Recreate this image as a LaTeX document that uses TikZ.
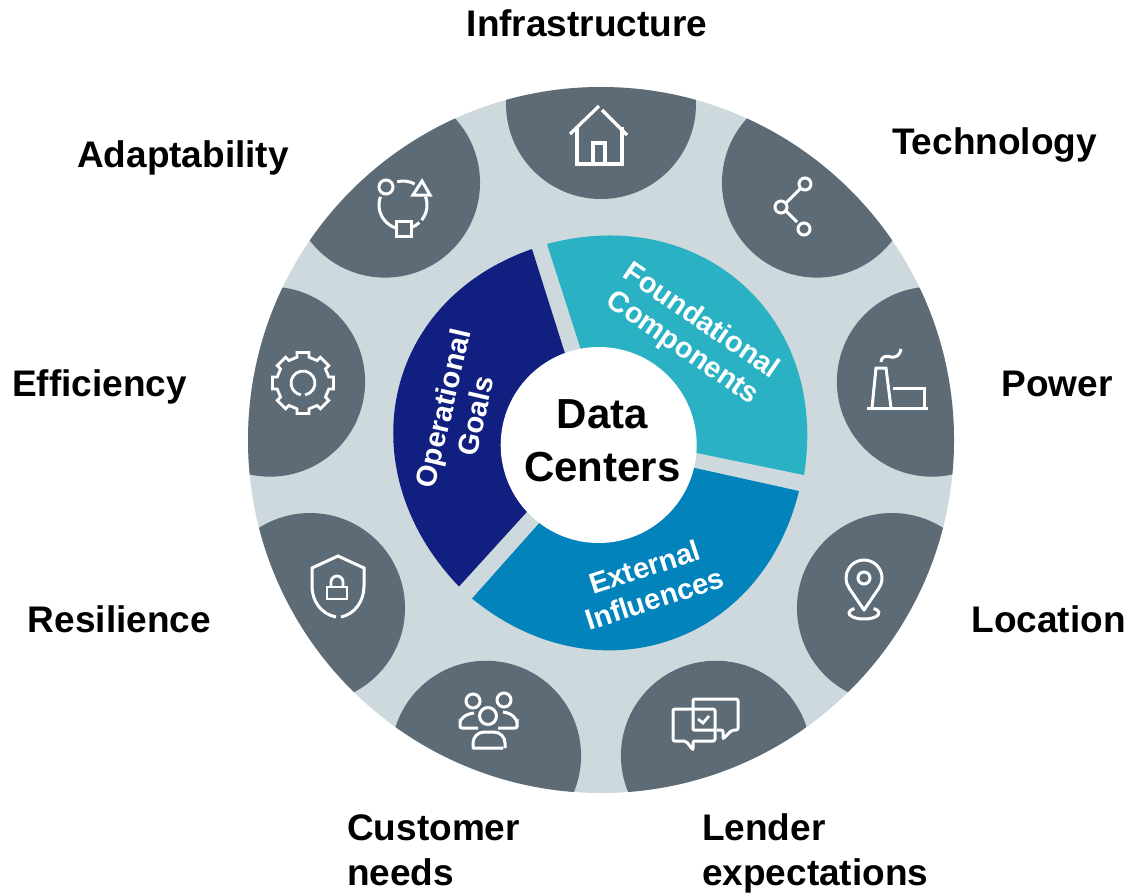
\documentclass[tikz,border=0pt]{standalone}
\usepackage{fontspec}
\setmainfont{Liberation Sans}
\definecolor{ringc}{HTML}{CDD9DD}
\definecolor{lobec}{HTML}{5D6B76}
\definecolor{tealc}{HTML}{2AB1C4}
\definecolor{bluec}{HTML}{0383BC}
\definecolor{navyc}{HTML}{111F80}
\tikzset{
  lbl/.style={font=\bfseries\fontsize{37}{45}\selectfont,text=black,inner sep=0pt,anchor=base},
  lblwest/.style={lbl,anchor=base west},
  seglbl/.style={font=\bfseries\fontsize{29}{33}\selectfont,text=white,inner sep=0pt,align=center},
  icon/.style={draw=white,line width=3pt,line join=miter,line cap=butt,fill=none},
}
\begin{document}
\begin{tikzpicture}[x=1pt,y=-1pt]
\useasboundingbox (0,0) rectangle (1129,892);
\coordinate (big) at (601,440);
\coordinate (hub) at (598.7,445);
\fill[ringc] (big) circle[radius=353pt];
% lobes
\begin{scope}
  \clip (big) circle[radius=353pt];
  \foreach \a in {90,50,10,-30,-70,-110,-150,170,130}
    \fill[lobec] ([shift={(\a:336pt)}]big) circle[radius=95pt];
\end{scope}
% segments
\fill[tealc] (598,445) -- (581,350) -- (547,244) .. controls (701.6,202.6) and (829.6,317.1) .. (804,475) -- (690,451.6) -- cycle;
\fill[bluec] (598,445) -- (685,465.8) -- (799,491) .. controls (760.8,646.4) and (596,700) .. (472,598.5) -- (545,516.6) -- cycle;
\fill[navyc] (598,445) -- (535,503) -- (459,586.5) .. controls (348.1,471.1) and (380.8,301.8) .. (532,249) -- (568,363) -- cycle;
\node[circle,fill=white,minimum size=196pt,inner sep=0pt] (hubdisc) at (hub) {};
\node[font=\bfseries\fontsize{42}{53}\selectfont,align=center,inner sep=0pt] (dc) at (602.5,441) {Data\\Centers};
\node[seglbl,rotate=-34.5] (fc) at (691.5,335) {Foundational\\Components};
\node[seglbl,rotate=77] (og) at (459,412) {Operational\\Goals};
\node[seglbl,rotate=18] (ei) at (649.5,583) {External\\Influences};
% labels
\node[lbl] (l1) at (587,36) {Infrastructure};
\node[lbl] (l2) at (994.5,154) {Technology};
\node[lbl] (l3) at (1057,396) {Power};
\node[lbl] (l4) at (1048.5,632) {Location};
\node[lblwest] (l5a) at (702,840) {Lender};
\node[lblwest] (l5b) at (702,885) {expectations};
\node[lblwest] (l6a) at (347,840) {Customer};
\node[lblwest] (l6b) at (347,885) {needs};
\node[lbl] (l7) at (119.5,632) {Resilience};
\node[lbl] (l8) at (99.5,396) {Efficiency};
\node[lbl] (l9) at (183,167) {Adaptability};
% house
\draw[icon,line width=3.2pt] (570,134) -- (599,106) (602,110) -- (627,135);
\draw[icon,line width=3.2pt] (577,127) -- (577,164) -- (622,164) -- (622,127);
\draw[icon,line width=3.2pt] (593,164) -- (593,143) -- (605,143) -- (605,164);
% share
\draw[icon] (805,184) circle[radius=6pt] (781,207) circle[radius=6pt] (804,229) circle[radius=6pt];
\draw[icon] (800,189) -- (786,203) (786,211) -- (797,222);
% factory
\draw[icon] (867,408) -- (928,408);
\draw[icon] (872,408) -- (876,368) -- (886,368) -- (891,408);
\draw[icon] (893,388) -- (924,388) -- (924,408);
\draw[icon] (881,362) .. controls (882,355) and (887,356) .. (891,357) .. controls (896,358) and (900,355) .. (901,349);
% pin
\coordinate (pin) at (864,578);
\coordinate (pintip) at (864,610);
\draw[icon] (pin) circle[radius=6pt];
\draw[icon,line join=round] (pintip) -- ([shift={(-34:18pt)}]pin) arc[start angle=-34,end angle=214,radius=18pt] -- cycle;
\coordinate (pinbase) at (864,613);
\draw[icon] ([shift={(130:15pt and 6pt)}]pinbase) arc[start angle=130,end angle=410,x radius=15pt,y radius=6pt];
% lender bubbles
\draw[icon,rounded corners=2pt] (686,741) -- (673,741) -- (673,709) -- (715,709) -- (715,741) -- (693,741) -- (693,750) -- cycle;
\draw[icon,rounded corners=2pt] (693,709) -- (693,699) -- (738,699) -- (738,730) -- (732,730) -- (723,739) -- (723,730) -- (717,730);
\draw[icon,rounded corners=1pt] (693,709) -- (693,730) -- (715,730);
\draw[icon,line width=2.8pt] (698,719) -- (703,723) -- (709,716);
% customers
\draw[icon] (473,701) circle[radius=7pt] (504,700) circle[radius=7pt] (488,716) circle[radius=8.5pt];
\draw[icon,rounded corners=2pt] (474,713) .. controls (465,714) and (460,719) .. (460,725) -- (460,728) -- (478,728);
\draw[icon,rounded corners=2pt] (503,712) .. controls (512,713) and (517,719) .. (517,725) -- (517,728) -- (498,728);
\draw[icon,line join=round] (503,748) -- (473,748) -- (473,743) .. controls (473,737) and (478,732) .. (484,732) -- (494,732) .. controls (500,732) and (505,737) .. (505,743) -- (505,748);
% shield
\draw[icon] (336,617) .. controls (321,614) and (312,601) .. (312,586) -- (312,568) -- (338,556) -- (364,568) -- (364,586) .. controls (364,601) and (355,614) .. (341,617);
\draw[icon,line width=2.8pt] (327,587) rectangle (347,599);
\draw[icon,line width=2.8pt] (331,587) -- (331,582) arc[start angle=180,end angle=0,radius=6pt] -- (343,587);
% gear
\coordinate (gear) at (303,383);
\draw[icon,line width=2.8pt] ([shift={(-80:12pt)}]gear) arc[start angle=-80,end angle=260,radius=12pt];
\draw[icon,line width=2.8pt] ([shift={(-11:31pt)}]gear)
  \foreach \t in {0,45,...,315} { -- ([shift={(\t-11:31pt)}]gear) -- ([shift={(\t+11:31pt)}]gear) -- ([shift={(\t+13:26.5pt)}]gear) -- ([shift={(\t+32:26.5pt)}]gear) } -- cycle;
% adaptability
\coordinate (ad) at (403,205);
\draw[icon] ([shift={(160:24pt)}]ad) arc[start angle=160,end angle=251,radius=24pt];
\draw[icon] ([shift={(104:24pt)}]ad) arc[start angle=104,end angle=61,radius=24pt];
\draw[icon] ([shift={(20:24pt)}]ad) arc[start angle=20,end angle=-39,radius=24pt];
\draw[icon] ([shift={(-47:24pt)}]ad) arc[start angle=-47,end angle=-70,radius=24pt];
\draw[icon] (386,187) circle[radius=7pt];
\draw[icon] (422,181) -- (430,195) -- (413,195) -- cycle;
\draw[icon] (396,221) rectangle (411,236);
\end{tikzpicture}
\end{document}
